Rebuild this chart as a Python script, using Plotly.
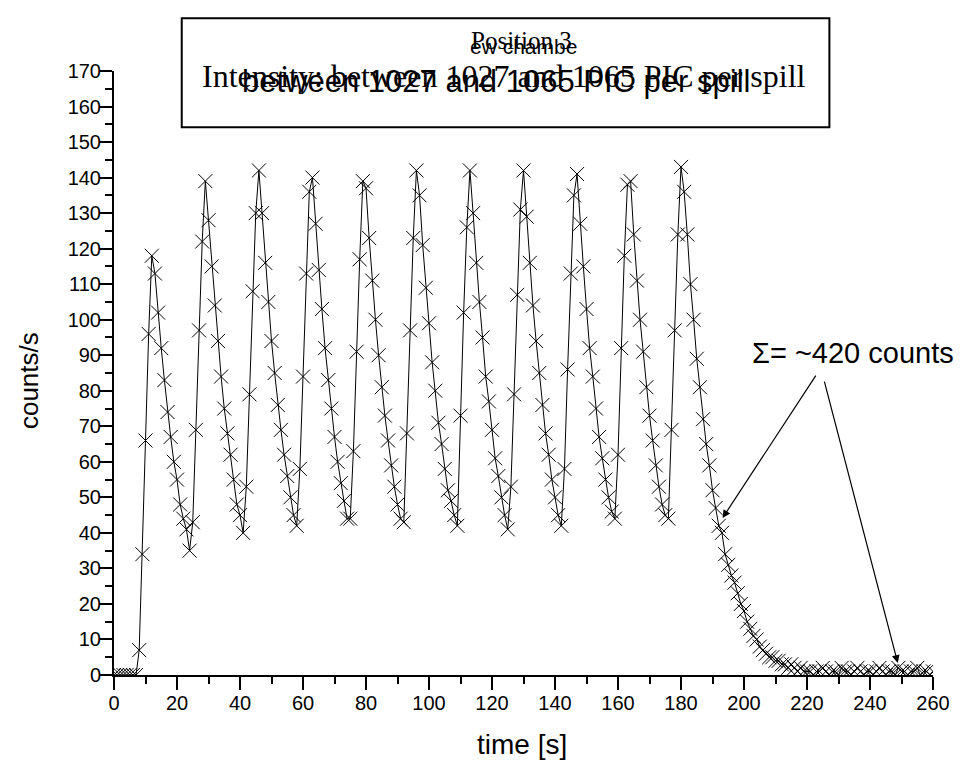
import plotly.graph_objects as go

# counts/s sampled every second, split by spill
pre_beam = [0, 0, 0, 0, 0, 0, 0, 0]
spill_1 = [7, 34, 66, 96, 118, 113, 102, 92, 83, 74, 67, 60, 55, 48, 44, 41, 35, 43]
spill_2 = [69, 97, 122, 139, 128, 115, 104, 94, 84, 75, 68, 62, 55, 48, 45, 40]
spill_3 = [53, 79, 108, 130, 142, 130, 116, 105, 94, 85, 76, 69, 62, 56, 50, 45, 42]
spill_4 = [58, 84, 113, 136, 140, 127, 114, 103, 92, 83, 75, 67, 60, 54, 49, 44, 44]
spill_5 = [63, 91, 117, 139, 137, 123, 111, 100, 90, 81, 73, 66, 59, 53, 48, 44, 43]
spill_6 = [68, 97, 123, 142, 135, 121, 109, 99, 88, 80, 71, 65, 58, 52, 49, 45, 42]
spill_7 = [73, 102, 126, 142, 130, 116, 105, 95, 84, 77, 69, 61, 56, 50, 45, 41]
spill_8 = [53, 79, 107, 131, 142, 129, 116, 104, 94, 85, 76, 68, 62, 55, 50, 45, 42]
spill_9 = [58, 86, 113, 135, 141, 127, 115, 103, 92, 84, 75, 67, 61, 55, 50, 46, 44]
spill_10 = [62, 92, 118, 138, 139, 124, 111, 100, 91, 81, 73, 66, 59, 53, 48, 45, 44]
spill_11 = [69, 97, 124, 143, 136, 124, 110, 100, 89, 81, 72, 65, 59, 52, 47, 42]
decay_tail = [40, 34, 31, 28, 26, 23, 20, 18, 15, 13, 11, 10, 8, 7, 6, 5, 5, 4, 4, 3,
              3, 2, 3, 2, 1, 2, 1, 1]
background = [1, 0, 1, 1, 2, 1, 0, 1, 1, 0, 2, 1, 1, 0, 1, 2, 1, 0, 1, 1,
              0, 1, 2, 1, 0, 1, 1, 0, 2, 1, 1, 0, 1, 1, 2, 0, 1, 1, 0, 1]

counts = (pre_beam + spill_1 + spill_2 + spill_3 + spill_4 + spill_5 + spill_6
          + spill_7 + spill_8 + spill_9 + spill_10 + spill_11 + decay_tail + background)
time_s = list(range(len(counts)))

x_ticks = list(range(0, 261, 20))
y_ticks = list(range(0, 171, 10))

SANS = "Arial, Liberation Sans, sans-serif"
SERIF = "Times New Roman, Liberation Serif, serif"

fig = go.Figure()
fig.add_trace(go.Scatter(
    x=time_s, y=counts, mode="lines+markers",
    line=dict(color="black", width=1),
    marker=dict(symbol="x-thin", size=14, color="black",
                line=dict(color="black", width=1)),
    cliponaxis=True, showlegend=False,
))

axis_common = dict(
    showline=True, linecolor="black", linewidth=2,
    ticks="outside", ticklen=13, tickwidth=2, tickcolor="black",
    showgrid=False, zeroline=False,
    tickfont=dict(family=SANS, size=20, color="black"),
)
fig.update_xaxes(range=[0, 260], tickvals=x_ticks, ticklabelstandoff=-4,
                 minor=dict(dtick=10, ticks="outside", ticklen=7, tickwidth=2,
                            tickcolor="black", showgrid=False),
                 **axis_common)
fig.update_yaxes(range=[0, 170], tickvals=y_ticks, ticklabelstandoff=-6,
                 minor=dict(dtick=5, ticks="outside", ticklen=7, tickwidth=2,
                            tickcolor="black", showgrid=False),
                 **axis_common)

# title box
fig.add_shape(type="rect", xref="paper", yref="paper",
              x0=0.0827, x1=0.8735, y0=0.9068, y1=1.0872,
              line=dict(color="black", width=2), fillcolor="white", layer="above")


def label(text, x, y, family, size, angle=0):
    return dict(text=text, x=x, y=y, xref="paper", yref="paper",
                xanchor="center", yanchor="middle", textangle=angle,
                showarrow=False, font=dict(family=family, size=size, color="black"))


ann = [
    label("Position 3", 0.4976, 1.0508, SERIF, 25),
    label("ew chambe", 0.500, 1.0400, SANS, 21),
    label("Intensity: between 1027 and 1065 PIC per spill", 0.476, 0.992, SERIF, 32),
    label("between 1027 and 1065 PIC per spill", 0.4666, 0.9826, SANS, 31),
    label("counts/s", -0.104, 0.488, SANS, 26, -90),
    label("time [s]", 0.4976, -0.1158, SANS, 28),
    label("\u03a3= ~420 counts", 0.9027, 0.533, SANS, 29),
]
ann.append(dict(text="", x=193.2, y=44.2, ax=223.1, ay=84.7, xref="x", yref="y",
                axref="x", ayref="y", showarrow=True, arrowhead=2, arrowsize=1.3,
                arrowwidth=1.2, arrowcolor="black"))
ann.append(dict(text="", x=248.8, y=3.4, ax=225.4, ay=83.0, xref="x", yref="y",
                axref="x", ayref="y", showarrow=True, arrowhead=2, arrowsize=1.3,
                arrowwidth=1.2, arrowcolor="black"))

fig.update_layout(
    width=962, height=773,
    margin=dict(l=114, r=26, t=71, b=98),
    paper_bgcolor="white", plot_bgcolor="white",
    annotations=ann,
)

fig.write_html("out.html")
